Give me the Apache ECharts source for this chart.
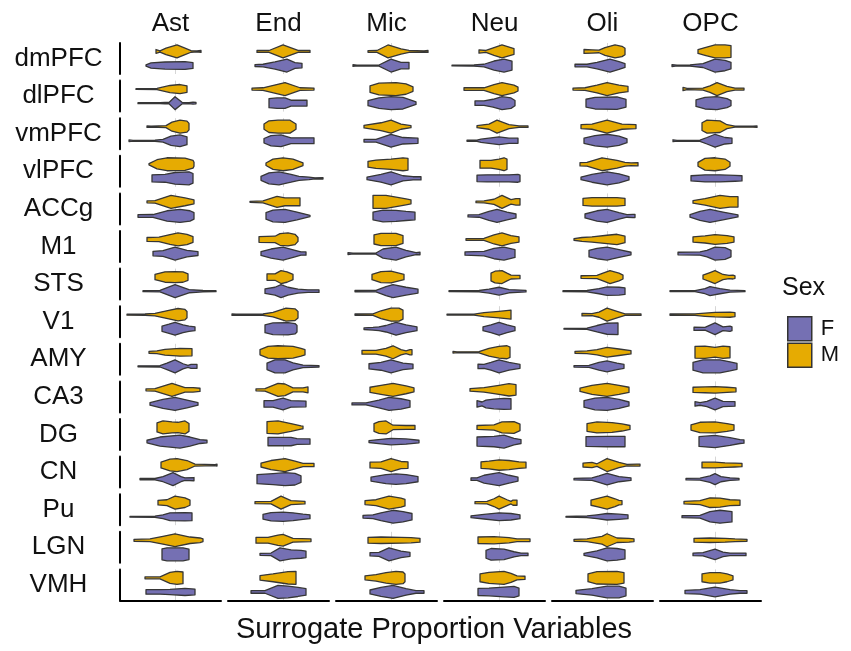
<!DOCTYPE html>
<html><head><meta charset="utf-8">
<script src="https://cdn.jsdelivr.net/npm/echarts@6/dist/echarts.min.js"></script>
<style>html,body{margin:0;padding:0;background:#fff}#c{width:851px;height:651px}</style>
</head><body><div id="c"></div>
<script>
const regions = ['dmPFC','dlPFC','vmPFC','vlPFC','ACCg','M1','STS','V1','AMY','CA3','DG','CN','Pu','LGN','VMH'];
const cellTypes = ['Ast','End','Mic','Neu','Oli','OPC'];
const sexes = ['F','M'];
const sexPos = {F:1, M:2};

// violin profiles: [value, relative density] per region (rows), per cell type and sex
const Ast_M = [
 [[-19,0.3],[-15,0.1],[-9,0.5],[2,1],[10,0.5],[16,0.12],[22,0.08],[26,0.15]],
 [[-39,0.06],[-18,0.1],[-5,0.55],[5,0.7],[12,0.5]],
 [[-28,0.12],[-24,0.06],[-9,0.15],[-3,0.7],[5,1],[12,0.85],[14,0.5]],
 [[-26,0.1],[-18,0.7],[-8,1],[10,0.95],[18,0.6],[19,0.3]],
 [[-28,0.15],[-20,0.2],[-4,1],[10,0.6],[19,0.3]],
 [[-28,0.3],[-16,0.35],[-5,0.75],[3,1],[12,0.8],[18,0.45]],
 [[-20,0.4],[-10,0.8],[0,0.85],[8,0.8],[13,0.5]],
 [[-48,0.08],[-30,0.1],[-20,0.2],[-5,0.7],[3,0.95],[10,0.8],[12,0.5]],
 [[-26,0.15],[-18,0.2],[-10,0.45],[5,0.6],[17,0.55]],
 [[-29,0.15],[-20,0.2],[-3,1],[10,0.35],[18,0.35],[25,0.25]],
 [[-18,0.7],[-12,1],[-3,0.85],[3,0.8],[10,1],[14,0.6]],
 [[-14,0.45],[-5,0.9],[2,1],[12,0.7],[20,0.15],[40,0.08],[42,0.15]],
 [[-17,0.35],[-8,0.45],[0,1],[10,0.75],[15,0.4]],
 [[-41,0.15],[-25,0.2],[-12,0.6],[0,1],[15,0.5],[25,0.35],[28,0.2]],
 [[-30,0.15],[-15,0.15],[-5,0.85],[2,1],[8,0.9]]
];
const Ast_F = [
 [[-29,0.1],[-24,0.4],[-10,0.55],[10,0.6],[18,0.45]],
 [[-37,0.08],[-15,0.08],[-10,0.12],[-6,0.1],[0,1],[7,0.12],[14,0.08],[18,0.15],[21,0.1]],
 [[-46,0.12],[-42,0.05],[-20,0.08],[-12,0.2],[-4,0.7],[5,0.9],[12,0.6]],
 [[-23,0.55],[-10,0.6],[0,0.9],[14,1],[18,0.75]],
 [[-37,0.2],[-22,0.22],[-8,0.8],[5,1],[15,0.8],[19,0.5]],
 [[-22,0.35],[-12,0.45],[0,1],[12,0.5],[23,0.3]],
 [[-32,0.08],[-15,0.12],[0,1],[14,0.25],[28,0.1],[41,0.08]],
 [[-13,0.4],[-6,0.7],[0,1],[8,0.6],[14,0.4],[20,0.3]],
 [[-37,0.08],[-15,0.1],[-8,0.5],[0,1],[8,0.4],[13,0.15],[16,0.3],[22,0.3]],
 [[-25,0.2],[-12,0.7],[0,1],[12,0.6],[23,0.2]],
 [[-28,0.2],[-15,0.7],[5,1],[15,0.7],[25,0.3],[32,0.2]],
 [[-35,0.1],[-20,0.1],[-12,0.4],[-2,1],[6,0.4],[10,0.2],[19,0.25]],
 [[-45,0.06],[-20,0.1],[-12,0.3],[-5,0.6],[10,0.65],[17,0.6]],
 [[-13,0.85],[-8,1],[8,1],[14,0.8]],
 [[-29,0.35],[-15,0.35],[-5,0.4],[10,0.55],[20,0.45]]
];
const End_M = [
 [[-26,0.15],[-14,0.15],[0,1],[15,0.15],[27,0.15]],
 [[-31,0.15],[-20,0.2],[2,1],[17,0.2],[31,0.15]],
 [[-19,0.4],[-14,0.9],[-5,1],[7,1],[13,0.4]],
 [[-17,0.2],[-10,0.8],[0,1],[10,0.8],[20,0.2]],
 [[-33,0.08],[-20,0.15],[-6,0.85],[2,0.6],[17,0.6]],
 [[-24,0.45],[-8,0.5],[-3,0.9],[5,1],[12,0.8],[15,0.3]],
 [[-16,0.5],[-8,0.5],[-2,1],[4,0.8],[10,0.4]],
 [[-51,0.12],[-47,0.06],[-20,0.1],[-10,0.35],[3,1],[12,0.9],[15,0.5]],
 [[-23,0.4],[-15,0.9],[-5,1],[10,0.9],[18,0.6],[22,0.4]],
 [[-27,0.15],[-18,0.2],[-5,1],[2,0.9],[10,0.3],[20,0.3],[25,0.45]],
 [[-16,0.9],[-5,1],[8,0.6],[18,0.25],[20,0.2]],
 [[-22,0.3],[-12,0.7],[2,1],[12,0.6],[20,0.25],[31,0.25]],
 [[-28,0.15],[-12,0.2],[-2,1],[8,0.3],[22,0.2]],
 [[-27,0.45],[-15,0.45],[-5,0.8],[0,0.9],[10,0.3],[28,0.2]],
 [[-23,0.35],[-10,0.6],[5,0.95],[13,1]]
];
const End_F = [
 [[-28,0.15],[-20,0.2],[-8,0.55],[4,1],[12,0.45],[19,0.35]],
 [[-14,0.7],[-6,0.8],[2,0.8],[8,0.45],[24,0.45]],
 [[-19,0.35],[-12,0.8],[-2,0.9],[8,0.45],[31,0.45]],
 [[-22,0.3],[-14,0.85],[-4,1],[8,0.6],[16,0.3],[26,0.2],[32,0.08],[40,0.12]],
 [[-17,0.5],[-10,0.9],[2,1],[14,0.6],[27,0.1]],
 [[-22,0.3],[-12,0.7],[0,1],[12,0.5],[18,0.25],[23,0.25]],
 [[-18,0.35],[-8,0.6],[-2,1],[5,0.6],[15,0.3],[25,0.2],[36,0.2]],
 [[-18,0.6],[-10,0.9],[5,0.95],[12,0.8],[14,0.5]],
 [[-16,0.5],[-8,1],[2,1],[10,0.55],[20,0.2],[36,0.1]],
 [[-19,0.5],[-10,0.5],[0,0.9],[8,0.5],[23,0.45]],
 [[-15,0.65],[8,0.65],[14,0.45],[27,0.4]],
 [[-26,0.7],[-10,0.85],[2,1],[12,0.9],[18,0.5]],
 [[-20,0.35],[-12,0.65],[0,0.7],[10,0.6],[20,0.4],[27,0.3]],
 [[-23,0.15],[-12,0.2],[-3,1],[8,0.7],[18,0.6],[23,0.5]],
 [[-32,0.2],[-18,0.2],[-5,1],[5,0.9],[15,0.7],[23,0.5]]
];
const Mic_M = [
 [[-23,0.12],[-14,0.15],[-3,1],[10,0.4],[18,0.15],[33,0.1],[37,0.15]],
 [[-21,0.5],[-12,0.9],[5,1],[15,0.8],[22,0.35]],
 [[-27,0.2],[-10,0.6],[0,1],[10,0.4],[20,0.15]],
 [[-23,0.45],[-15,0.65],[0,0.8],[12,1],[17,0.9]],
 [[-18,1],[-5,1],[8,0.65],[15,0.45],[20,0.3]],
 [[-17,0.7],[-10,0.95],[5,0.95],[12,0.6]],
 [[-19,0.4],[-10,0.85],[0,0.9],[8,0.6],[13,0.4]],
 [[-36,0.1],[-18,0.12],[-10,0.6],[0,1],[8,1],[12,0.7]],
 [[-29,0.3],[-15,0.3],[-5,0.6],[2,1],[10,0.4],[15,0.2],[19,0.4],[21,0.4]],
 [[-21,0.4],[-10,0.7],[2,1],[15,0.6],[23,0.3]],
 [[-17,0.6],[-12,0.9],[-5,1],[2,0.35],[15,0.3],[24,0.3]],
 [[-21,0.45],[-10,0.5],[0,1],[10,0.55],[17,0.5]],
 [[-26,0.3],[-15,0.45],[-2,1],[10,0.7],[14,0.5]],
 [[-23,0.45],[-10,0.5],[10,0.45],[20,0.4],[29,0.3]],
 [[-26,0.3],[-15,0.5],[-5,0.8],[5,1],[12,0.9],[14,0.6]]
];
const Mic_F = [
 [[-38,0.12],[-34,0.06],[-12,0.08],[0,1],[10,0.5],[18,0.5]],
 [[-23,0.4],[-12,0.8],[0,1],[12,0.9],[25,0.2]],
 [[-27,0.2],[-15,0.2],[0,1],[12,0.5],[27,0.4]],
 [[-24,0.2],[-10,0.6],[0,1],[12,0.4],[22,0.25],[30,0.25]],
 [[-18,0.6],[-8,0.9],[5,0.85],[15,0.7],[24,0.6]],
 [[-43,0.15],[-38,0.06],[-15,0.08],[-8,0.7],[5,1],[15,0.5],[25,0.15],[29,0.2]],
 [[-36,0.1],[-15,0.12],[-5,0.7],[2,1],[15,0.6],[27,0.3]],
 [[-27,0.12],[-18,0.2],[-12,0.3],[-5,0.5],[5,1],[15,0.6],[26,0.3]],
 [[-22,0.4],[-10,0.6],[0,1],[12,0.5],[22,0.35]],
 [[-39,0.15],[-25,0.15],[-12,0.6],[-2,1],[10,0.8],[19,0.5]],
 [[-22,0.15],[-10,0.35],[0,0.5],[15,0.4],[28,0.2]],
 [[-20,0.3],[-5,0.7],[5,0.8],[15,0.7],[27,0.4]],
 [[-28,0.2],[-18,0.3],[-10,0.6],[2,1],[12,0.8],[21,0.5]],
 [[-21,0.25],[-12,0.3],[-2,1],[10,0.5],[19,0.3]],
 [[-21,0.3],[-10,0.7],[2,1],[15,0.5],[25,0.2],[33,0.2]]
];
const Neu_M = [
 [[-20,0.25],[-13,0.15],[-5,0.6],[3,1],[15,0.45]],
 [[-35,0.2],[-15,0.2],[-5,0.7],[3,1],[15,0.6],[19,0.3]],
 [[-22,0.15],[-10,0.4],[-2,1],[10,0.3],[20,0.12],[29,0.12]],
 [[-19,0.6],[-8,0.6],[0,0.8],[5,1],[8,0.8]],
 [[-23,0.12],[-15,0.15],[-5,0.4],[3,1],[12,0.35],[17,0.5],[21,0.5]],
 [[-33,0.12],[-15,0.15],[-5,0.7],[3,1],[12,0.6],[20,0.4]],
 [[-8,0.6],[-4,0.9],[3,1],[8,0.6],[12,0.3],[21,0.25]],
 [[-52,0.06],[-25,0.08],[-15,0.3],[0,0.5],[12,0.7]],
 [[-46,0.12],[-42,0.06],[-20,0.1],[-10,0.6],[0,0.9],[8,1],[11,0.8]],
 [[-29,0.2],[-15,0.35],[0,0.7],[10,0.95],[17,0.8]],
 [[-22,0.3],[-5,0.4],[3,0.85],[15,0.9],[21,0.5]],
 [[-18,0.5],[-10,0.6],[0,0.8],[10,0.7],[20,0.5],[27,0.45]],
 [[-24,0.15],[-12,0.2],[-5,0.6],[0,1],[8,0.45],[12,0.2],[14,0.4],[18,0.4]],
 [[-21,0.5],[-5,0.55],[10,0.4],[18,0.2],[31,0.2]],
 [[-19,0.6],[-10,0.85],[5,1],[12,0.7],[18,0.3],[26,0.25]]
];
const Neu_F = [
 [[-47,0.06],[-25,0.1],[-15,0.2],[-5,0.7],[5,1],[13,0.7]],
 [[-24,0.35],[-15,0.35],[-6,0.6],[3,1],[12,0.8],[16,0.4]],
 [[-32,0.08],[-22,0.1],[-18,0.25],[-10,0.4],[0,0.6],[10,0.4],[19,0.4]],
 [[-22,0.5],[-12,0.55],[10,0.55],[19,0.6],[21,0.5]],
 [[-31,0.15],[-20,0.2],[-10,0.7],[-2,1],[8,0.6],[17,0.3]],
 [[-34,0.25],[-15,0.35],[-5,0.8],[5,1],[16,0.6]],
 [[-50,0.06],[-20,0.1],[-10,0.3],[0,0.6],[10,0.25],[27,0.12]],
 [[-16,0.3],[-8,0.6],[0,1],[8,0.6],[16,0.3]],
 [[-21,0.35],[-15,0.3],[-8,0.6],[0,1],[10,0.6],[21,0.3]],
 [[-22,0.5],[-17,0.3],[-13,0.6],[-5,0.75],[5,0.85],[12,0.8]],
 [[-22,0.7],[-5,0.8],[5,1],[15,0.5],[22,0.3]],
 [[-28,0.2],[-22,0.2],[-15,0.6],[0,1],[10,0.6],[19,0.3]],
 [[-28,0.15],[-15,0.35],[0,0.6],[12,0.5],[21,0.3]],
 [[-13,0.6],[-8,0.9],[5,0.8],[15,0.4],[22,0.2],[29,0.2]],
 [[-21,0.55],[-10,0.6],[5,0.75],[15,0.85],[20,0.6]]
];
const Oli_M = [
 [[-23,0.3],[-15,0.25],[-8,0.2],[-2,0.6],[8,1],[15,0.8],[18,0.5]],
 [[-34,0.15],[-22,0.2],[-10,0.6],[0,1],[12,0.6],[21,0.4]],
 [[-26,0.3],[-15,0.4],[0,1],[15,0.4],[29,0.3]],
 [[-27,0.25],[-20,0.3],[-5,1],[10,0.6],[18,0.3],[24,0.2],[31,0.25]],
 [[-24,0.55],[-15,0.65],[10,0.65],[18,0.55]],
 [[-33,0.12],[-25,0.3],[-15,0.4],[0,0.65],[10,0.8],[18,0.5]],
 [[-26,0.2],[-10,0.25],[-4,0.6],[3,1],[12,0.6],[16,0.3]],
 [[-25,0.2],[-15,0.15],[-8,0.4],[0,1],[10,0.5],[18,0.12],[34,0.12]],
 [[-32,0.15],[-20,0.2],[-10,0.4],[0,0.75],[12,0.5],[24,0.25]],
 [[-27,0.25],[-15,0.7],[0,1],[12,0.7],[22,0.4]],
 [[-20,0.6],[-10,0.85],[5,0.75],[15,0.55],[23,0.3]],
 [[-24,0.3],[-15,0.4],[-10,0.2],[0,1],[12,0.4],[20,0.12],[30,0.15],[33,0.15]],
 [[-16,0.4],[-8,0.7],[0,1],[8,0.6],[12,0.35],[15,0.3]],
 [[-33,0.15],[-20,0.2],[-5,0.6],[0,1],[10,0.35],[22,0.3],[27,0.2]],
 [[-19,0.6],[-10,0.95],[10,1],[17,0.8]]
];
const Oli_F = [
 [[-32,0.2],[-20,0.2],[-10,0.5],[3,1],[12,0.6],[18,0.3]],
 [[-21,0.6],[-12,0.9],[10,0.95],[19,0.6]],
 [[-23,0.4],[-12,0.8],[0,1],[12,0.7],[20,0.3]],
 [[-26,0.2],[-15,0.6],[0,1],[12,0.7],[22,0.25]],
 [[-22,0.3],[-10,0.8],[0,1],[12,0.5],[20,0.2],[26,0.25],[28,0.25]],
 [[-18,0.5],[-10,0.8],[0,1],[12,0.6],[24,0.2]],
 [[-44,0.08],[-20,0.1],[-8,0.4],[0,0.65],[12,0.6],[18,0.5]],
 [[-43,0.06],[-20,0.1],[-10,0.5],[0,0.85],[11,0.9]],
 [[-33,0.12],[-18,0.15],[-8,0.6],[0,0.85],[10,0.5],[17,0.3]],
 [[-23,0.5],[-12,0.9],[0,1],[12,0.7],[22,0.3]],
 [[-21,0.75],[0,0.8],[18,0.8]],
 [[-33,0.12],[-15,0.2],[-8,0.5],[0,0.9],[12,0.4],[24,0.2]],
 [[-41,0.06],[-20,0.12],[-10,0.3],[0,0.5],[12,0.4],[21,0.3]],
 [[-23,0.15],[-10,0.55],[0,1],[10,0.9],[18,0.7]],
 [[-31,0.25],[-15,0.5],[0,0.9],[12,0.9],[19,0.6]]
];
const OPC_M = [
 [[-17,0.3],[-10,0.6],[0,1],[10,1],[16,0.9]],
 [[-32,0.25],[-28,0.1],[-12,0.15],[-5,0.5],[2,1],[12,0.4],[20,0.15],[29,0.15]],
 [[-13,0.6],[-8,1],[5,0.9],[12,0.3],[20,0.08],[38,0.08],[42,0.12]],
 [[-17,0.3],[-10,0.9],[0,1],[10,0.8],[15,0.3]],
 [[-22,0.2],[-10,0.5],[5,1],[15,0.8],[23,0.8]],
 [[-22,0.4],[-10,0.55],[0,0.75],[12,0.6],[19,0.4]],
 [[-12,0.3],[-5,0.7],[0,1],[8,0.4],[14,0.25],[18,0.3],[20,0.2]],
 [[-45,0.1],[-20,0.12],[-10,0.25],[0,0.35],[15,0.4],[20,0.3]],
 [[-20,0.9],[-10,0.95],[0,0.75],[8,0.95],[15,0.85]],
 [[-22,0.4],[-10,0.45],[0,0.5],[12,0.4],[21,0.3]],
 [[-24,0.4],[-15,0.8],[0,0.85],[12,0.6],[19,0.4]],
 [[-13,0.45],[0,0.45],[10,0.35],[20,0.3],[27,0.25]],
 [[-31,0.2],[-15,0.3],[-5,0.75],[5,0.7],[15,0.45],[25,0.4]],
 [[-21,0.3],[-5,0.35],[10,0.3],[20,0.2],[32,0.15]],
 [[-13,0.6],[-5,0.8],[5,0.8],[12,0.6],[18,0.3]]
];
const OPC_F = [
 [[-43,0.15],[-38,0.06],[-25,0.1],[-12,0.3],[0,1],[10,0.8],[16,0.5]],
 [[-19,0.5],[-10,0.9],[2,1],[12,0.7],[16,0.4]],
 [[-42,0.15],[-38,0.06],[-15,0.1],[-8,0.5],[0,1],[10,0.5],[17,0.4]],
 [[-24,0.4],[-10,0.55],[5,0.55],[20,0.45],[27,0.4]],
 [[-25,0.2],[-15,0.7],[-5,1],[8,0.6],[23,0.15]],
 [[-37,0.2],[-15,0.25],[-8,0.5],[0,1],[10,0.9],[16,0.5]],
 [[-45,0.06],[-20,0.08],[-10,0.4],[-5,0.7],[5,0.4],[15,0.15],[30,0.08]],
 [[-21,0.25],[-10,0.2],[0,0.9],[8,0.3],[15,0.4],[17,0.3]],
 [[-22,0.6],[-12,1],[5,1],[15,0.7],[22,0.45]],
 [[-20,0.35],[-15,0.2],[-8,0.4],[0,0.9],[8,0.4],[20,0.35]],
 [[-16,0.75],[0,0.95],[15,0.6],[25,0.3],[29,0.25]],
 [[-29,0.12],[-15,0.15],[-5,0.5],[0,0.85],[6,0.4],[15,0.2],[24,0.12]],
 [[-33,0.15],[-15,0.2],[-5,0.8],[5,1],[17,0.8]],
 [[-22,0.2],[-12,0.25],[0,0.8],[8,0.35],[15,0.2],[31,0.2]],
 [[-30,0.25],[-15,0.35],[0,0.75],[15,0.35],[25,0.2],[32,0.2]]
];

const violins = {
  Ast:{F:Ast_F, M:Ast_M}, End:{F:End_F, M:End_M}, Mic:{F:Mic_F, M:Mic_M},
  Neu:{F:Neu_F, M:Neu_M}, Oli:{F:Oli_F, M:Oli_M}, OPC:{F:OPC_F, M:OPC_M}
};

const FONT = '"Liberation Sans", Arial, sans-serif';
const TXT = '#111111';
const colors = {F:'#7570B3', M:'#E6AB02'};
const HALF = 0.46;

const chart = echarts.init(document.getElementById('c'), null, {renderer:'canvas'});
const grids = [], xAxes = [], yAxes = [], series = [];

cellTypes.forEach((ct, c) => {
  regions.forEach((rg, r) => {
    const gi = grids.length;
    grids.push({left: 120 + c * 108, top: 43 + r * 37.6, width: 101, height: 31});
    xAxes.push({
      type:'value', gridIndex:gi, min:-55, max:46, interval:55,
      axisLine:{show: r === regions.length - 1, onZero:false, lineStyle:{color:'#000', width:2}},
      axisTick:{show:false}, axisLabel:{show:false},
      splitLine:{show:true, showMinLine:false, showMaxLine:false, lineStyle:{color:'#d6d6d6', width:1}}
    });
    yAxes.push({
      type:'value', gridIndex:gi, min:0.4, max:2.6,
      axisLine:{show: c === 0, onZero:false, lineStyle:{color:'#000', width:2}},
      axisTick:{show:false}, axisLabel:{show:false}, splitLine:{show:false}
    });
    sexes.forEach(s => {
      const prof = violins[ct][s][r];
      const y0 = sexPos[s];
      series.push({
        type:'custom', name:s, xAxisIndex:gi, yAxisIndex:gi, silent:true,
        itemStyle:{color:colors[s]},
        data:[[prof[0][0], y0]],
        renderItem:(params, api) => {
          const pts = [];
          for (let i = 0; i < prof.length; i++) pts.push(api.coord([prof[i][0], y0 + prof[i][1] * HALF]));
          for (let i = prof.length - 1; i >= 0; i--) pts.push(api.coord([prof[i][0], y0 - prof[i][1] * HALF]));
          return {type:'polygon', shape:{points:pts}, style:{fill:colors[s], stroke:'#363636', lineWidth:1.3, lineJoin:'round'}};
        }
      });
    });
  });
});

// label grid for strip texts
const lg = grids.length;
grids.push({left:116.5, top:39.7, width:648, height:564});
xAxes.push({type:'category', gridIndex:lg, position:'top', data:cellTypes,
  axisLine:{show:false}, axisTick:{show:false}, splitLine:{show:false},
  axisLabel:{interval:0, fontSize:26, color:TXT, fontFamily:FONT, margin:16, verticalAlign:'middle'}});
yAxes.push({type:'category', gridIndex:lg, data:regions, inverse:true,
  axisLine:{show:false}, axisTick:{show:false}, splitLine:{show:false},
  axisLabel:{interval:0, fontSize:26, color:TXT, fontFamily:FONT, margin:58, align:'center'}});

chart.setOption({
  animation:false,
  textStyle:{fontFamily:FONT},
  title:[
    {text:'Sex', left:782, top:276, padding:0, textStyle:{fontSize:25, fontWeight:'normal', color:TXT, fontFamily:FONT}},
    {text:'Surrogate Proportion Variables', left:434, textAlign:'center', top:615, padding:0,
     textStyle:{fontSize:29, fontWeight:'normal', color:TXT, fontFamily:FONT}}
  ],
  legend:{data:sexes, orient:'vertical', left:787, top:316, padding:0, itemWidth:24, itemHeight:24, itemGap:1,
    icon:'rect', selectedMode:false,
    itemStyle:{borderColor:'#333333', borderWidth:1.5},
    textStyle:{fontSize:22, color:TXT, fontFamily:FONT, padding:[0,0,0,4]}},
  grid:grids, xAxis:xAxes, yAxis:yAxes, series:series
});
</script></body></html>
